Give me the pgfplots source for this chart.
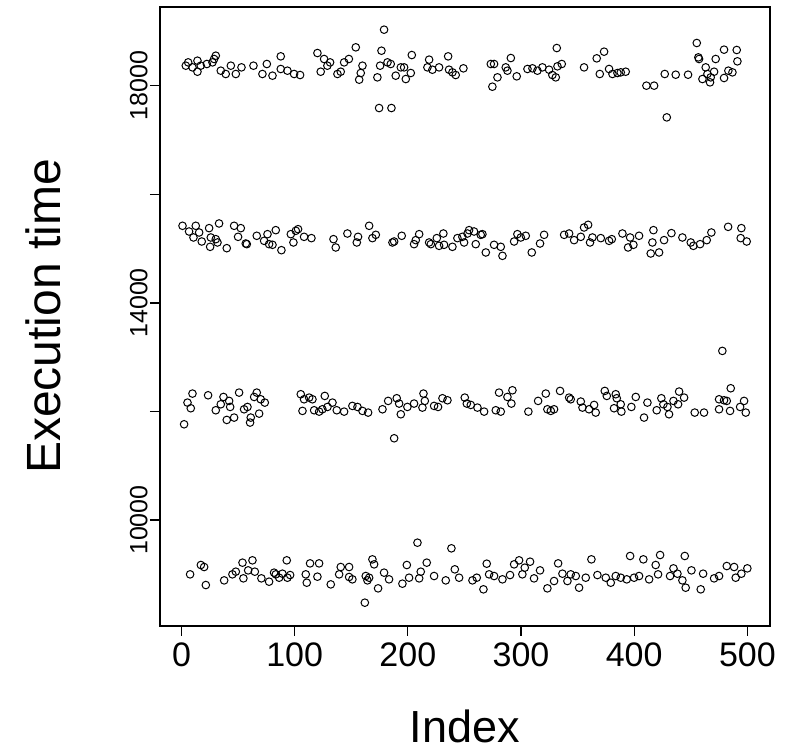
\documentclass[border=0pt]{standalone}
\usepackage{pgfplots}
\pgfplotsset{compat=1.18}
\usepackage{fontspec}
\setmainfont{Liberation Sans}
\begin{document}
\begin{tikzpicture}
\begin{axis}[
  name=ax,
  scale only axis,
  width=305pt, height=309.5pt,
  xmin=-19, xmax=520, ymin=8050, ymax=19450,
  axis line style={line width=0.6pt},
  tick style={line width=0.6pt, black},
  tick align=outside, major tick length=5pt,
  xtick={0,100,200,300,400,500},
  ytick={10000,12000,14000,16000,18000},
  yticklabels={10000,,14000,,18000},
  scaled y ticks=false, scaled x ticks=false,
  xtick pos=bottom, ytick pos=left,
  /pgf/number format/assume math mode=true,
  /pgf/number format/1000 sep={},
  xticklabel style={font=\fontsize{17}{20}\selectfont, anchor=north, yshift=0pt},
  yticklabel style={font=\fontsize{12.5}{15}\selectfont, rotate=90, anchor=south, inner sep=1pt},
  xlabel={Index}, ylabel={Execution time},
  xlabel style={font=\fontsize{22.5}{26}\selectfont, at={(axis description cs:0.5,-0.162)}, anchor=center},
  ylabel style={font=\fontsize{24}{27}\selectfont, at={(axis description cs:-0.192,0.5)}, anchor=center},
  clip=false,
]
\addplot[only marks, mark=o, mark size=1.9pt, mark options={black, line width=0.5pt}] table {
x y
3.8 18369
5.9 18430
9.7 18338
14.1 18461
14.1 18258
17 18369
22.4 18400
27.4 18430
30.3 18553
28.8 18492
34.7 18277
39.1 18216
43.6 18369
48 18216
53 18338
63.6 18369
71.5 18216
75.4 18400
80.4 18185
87.7 18541
87.7 18308
93.6 18277
99.5 18216
104.8 18197
120.1 18602
123 18258
126 18492
128.9 18369
131.3 18430
137.8 18216
140.7 18258
143.7 18430
147.9 18492
154 18707
159.9 18369
158.4 18234
157 18111
179 19032
176.7 18645
175.5 18369
173.1 18154
182 18430
184.9 18400
174.6 17589
185.5 17589
189.3 18185
193.8 18338
196.7 18338
198.2 18123
202.6 18234
203.5 18565
218.8 18480
217.3 18338
221.7 18295
227.6 18338
235.6 18541
236.4 18295
239.4 18246
242.3 18197
249.1 18320
273.3 18400
276.2 18400
274.7 17982
279.2 18154
286.5 18338
288 18277
291 18510
296.2 18173
305.7 18308
310.1 18320
314.5 18277
318.9 18338
324.8 18295
327.7 18197
331.6 18694
332.2 18357
336 18400
330.7 18154
355.7 18338
366.9 18504
373.4 18627
369.6 18216
377.8 18308
380.8 18216
385.2 18234
388.1 18246
392.5 18258
410.8 18001
417.6 18001
428.8 17417
427 18216
436.7 18203
447.6 18203
455.3 18787
456.7 18522
457.3 18492
463.2 18338
460.3 18123
464.7 18216
467 18062
467.6 18154
470.6 18258
472 18492
479.4 18664
479.4 18142
483.2 18277
486.8 18246
490.6 18658
491.2 18449
0.9 15420
6.7 15315
12.6 15420
10.6 15205
15.6 15297
17.9 15131
24.4 15377
25.9 15205
25.3 15033
30.3 15174
33.2 15463
31.8 15113
40 15008
46.5 15420
52.4 15377
50 15217
56.8 15094
57.7 15082
66.5 15236
73 15143
76 15266
77.4 15082
80.4 15070
83.3 15340
88.3 14971
96.6 15266
98.9 15113
101 15328
103 15358
108.3 15217
114.8 15193
134.3 15174
136.3 15021
146.6 15278
156 15217
154.9 15113
165.8 15420
168.7 15193
171.7 15254
186.4 15113
187.9 15131
194.6 15236
205.5 15082
207 15156
210 15266
218.8 15113
220.3 15082
225.6 15193
227.6 15051
231.4 15278
232 15070
239.4 15033
243.8 15193
248.2 15217
249.7 15113
252.7 15278
254.1 15340
258.5 15315
260 15082
264.4 15254
265.9 15266
268.9 14929
276.2 15070
282.1 15033
283.6 14867
293.9 15131
296.8 15266
299.8 15205
304.2 15236
309.5 14929
316.8 15094
320.4 15254
338.1 15254
342.5 15278
346.9 15156
352.8 15217
355.7 15389
359.3 15438
361 15113
363.1 15205
370.5 15193
377.8 15143
380.2 15174
389.6 15278
394.6 15021
396.4 15205
399.3 15070
404.3 15236
417 15340
416.1 15113
414.6 14910
422 14929
426.4 15156
432.9 15285
442.6 15205
450 15113
452.3 15051
458.2 15082
464.1 15156
468.2 15297
483 15401
494.7 15377
494.1 15193
499.4 15131
2.3 11765
5.3 12164
9.7 12330
8.2 12060
23.5 12299
30.3 12023
34.7 12133
37.1 12268
42.1 12195
43 12084
40 11845
46.5 11888
50.9 12348
55.3 12041
58.3 12084
61.2 11888
60.6 11796
64.2 12268
66.5 12348
68.6 11961
70 12225
73.6 12164
105.4 12318
106.9 12011
108.3 12225
112.8 12256
115.7 12225
117.2 12023
121.6 11998
124.5 12041
126.6 12287
129 12084
133.4 12164
137.2 12023
143.7 11998
151 12103
155.5 12084
159.9 12011
164.9 11980
177.6 12041
182.6 12195
187.9 11507
190.2 12244
192.3 12146
193.8 11949
199.6 12084
205.5 12146
212.9 12072
213.8 12330
215 12195
223.2 12103
226.7 12084
230.6 12244
235 12207
250.3 12256
252.1 12146
255.6 12121
261.5 12072
267.4 11998
277.7 12023
280.6 12348
282.1 11998
288 12268
292.4 12391
291.5 12146
306.5 11998
315.1 12195
321.9 12330
323.3 12041
326.3 12011
329.2 12041
334.5 12379
342.5 12256
343.9 12225
352.8 12183
354.3 12072
360.1 12041
364.6 12121
366 11980
374 12379
375.8 12287
383.7 12318
384.6 12244
382.2 12060
388.7 11998
388.1 12133
397.5 12084
401.4 12268
408.7 11888
411.7 12164
419.9 12023
424 12244
425.8 12133
429.4 12084
430.8 11949
434.7 12195
439.7 12367
438.8 12133
444.1 12256
453.5 11980
461.7 11980
475 12225
475 12041
477.9 13116
479.4 12207
481.8 12195
485.3 12428
484.7 12011
493.6 12084
497.1 12195
498.6 11980
7.6 9001
17.1 9173
20 9136
21.5 8804
37.7 8890
45 9001
48 9050
53.9 9216
54.7 8927
58.9 9074
62.7 9259
64.8 9050
70.6 8927
77.4 8866
81.8 9032
83.3 9001
86.3 8939
89.2 9013
93 9259
93.6 8939
96 8988
109.8 9001
110.7 8847
113.6 9203
120.1 8958
121.6 9203
131.9 8816
139.3 9001
140.7 9136
148.1 9136
148.1 8952
151 8909
162 8479
162.8 8970
164.3 8890
165.8 8939
168.7 9277
170.2 9185
173.7 8743
179 9032
183.4 8909
195.2 8829
199.1 9173
201.1 8939
208.5 9584
210 8927
211.4 9050
216.7 9216
223.2 8970
233.5 8890
238.5 9480
241.5 9093
245.3 8939
257.1 8890
260.9 8939
266.8 8725
269.7 9197
271.8 9001
276.2 8970
283.6 8909
290.3 8988
293.9 9185
298.3 9259
301.2 9001
303.3 9124
308 9234
311.5 8927
316.8 9074
323.3 8743
329.2 8878
332.8 9203
336.6 9013
341 8878
343.9 9001
348.4 8970
351.3 8755
357.2 8939
362.2 9277
367.5 8988
374.9 8939
379.3 8847
383.7 8970
388.1 8939
393.4 8909
396.4 9339
399.9 8939
404.3 8970
408.1 9277
413.2 8909
419 9173
421.1 9001
422.9 9357
431.7 8970
434.7 9111
438.2 9013
442.6 8890
445.5 8755
444.7 9339
450.6 9074
458.8 8725
460.9 9013
470.6 8927
475 8970
481.8 9154
488.3 9136
489.7 8939
494.7 9013
500 9111
};
\end{axis}
\pgfresetboundingbox
\path[use as bounding box] ([xshift=-80pt,yshift=-63pt]ax.south west) rectangle ([xshift=7.5pt,yshift=3.5pt]ax.north east);
\end{tikzpicture}
\end{document}
